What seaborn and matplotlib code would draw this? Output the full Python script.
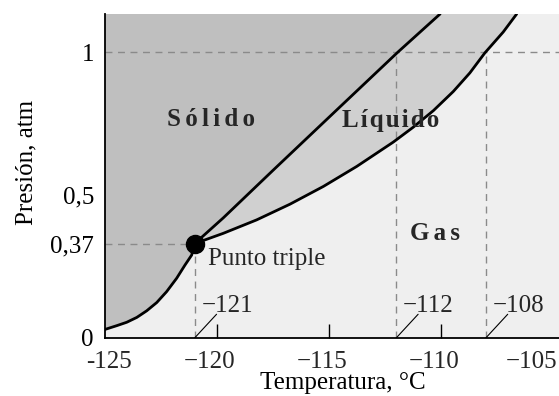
import matplotlib
matplotlib.use('Agg')
import matplotlib.pyplot as plt
import seaborn as sns

# Phase diagram data (temperature in °C, pressure in atm)
triple_T = -121.0
triple_P = 0.33

sub_T = [-125.0, -124.48, -124.03, -123.58, -123.14, -122.69, -122.25, -121.80, -121.43, -121.13, -121.0]
sub_P = [0.030, 0.043, 0.055, 0.072, 0.095, 0.124, 0.162, 0.209, 0.255, 0.290, 0.33]

melt_T = [-121.0, -119.72, -117.49, -114.66, -111.92, -110.04]
melt_P = [0.33, 0.42, 0.587, 0.797, 1.0, 1.133]

vap_T = [-121.0, -119.72, -118.23, -116.74, -115.25, -113.76, -112.13, -111.24,
         -110.34, -109.45, -108.71, -108.04, -107.22, -106.62]
vap_P = [0.33, 0.366, 0.413, 0.468, 0.530, 0.600, 0.685, 0.737,
         0.795, 0.862, 0.927, 0.997, 1.07, 1.133]

marks_T = [-121, -112, -108]
marks_lbl = ['\u2212121', '\u2212112', '\u2212108']

x_ticks = [-125, -120, -115, -110, -105]
x_tick_lbl = ['-125', '\u2212120', '\u2212115', '\u2212110', '\u2212105']
y_ticks = [0, triple_P, 0.5, 1.0]
y_tick_lbl = ['0', '0,37', '0,5', '1']

X_MIN, X_MAX = -125, -104.73
Y_MIN, Y_MAX = 0, 1.133

SOLID = '#bfbfbf'
LIQUID = '#d0d0d0'
GAS = '#efefef'
DASH = '#8a8a8a'
FS = 18

sns.set_theme(style='white')
plt.rcParams['font.family'] = ['Liberation Serif', 'DejaVu Serif']

fig = plt.figure(figsize=(5.59, 3.96), dpi=100)
ax = fig.add_axes([105 / 559, 58 / 396, 454 / 559, 324 / 396])
ax.set_facecolor(GAS)

# Regions
ax.fill(sub_T + melt_T[1:] + [X_MIN], sub_P + melt_P[1:] + [Y_MAX],
        color=SOLID, lw=0, zorder=1)
ax.fill(melt_T + vap_T[::-1], melt_P + vap_P[::-1], color=LIQUID, lw=0, zorder=1)

# Guide lines
ax.axhline(1.0, color=DASH, lw=1, dashes=(5, 4), zorder=2)
ax.plot([X_MIN, triple_T], [triple_P, triple_P], color=DASH, lw=1, dashes=(5, 4), zorder=2)
ax.plot([marks_T[0], marks_T[0]], [0, triple_P], color=DASH, lw=1, dashes=(5, 4), zorder=2)
for t in marks_T[1:]:
    ax.plot([t, t], [0, 1.0], color=DASH, lw=1, dashes=(5, 4), zorder=2)

# Phase boundaries
for xs, ys in [(sub_T, sub_P), (melt_T, melt_P), (vap_T, vap_P)]:
    sns.lineplot(x=xs, y=ys, sort=False, color='black', lw=2, ax=ax, zorder=3,
                 solid_joinstyle='round', solid_capstyle='round')
ax.plot([triple_T], [triple_P], 'o', color='black', ms=13, zorder=4)

# Marked temperatures with leader lines
for t, lbl in zip(marks_T, marks_lbl):
    ax.plot([t, t + 0.98], [0, 0.083], color='black', lw=0.8, zorder=3)
    ax.text(t + 0.3, 0.092, lbl, fontsize=FS, ha='left', va='baseline', zorder=5)

# Region labels
ax.text(-120.27, 0.741, '\u200a\u200a'.join('Sólido'), fontsize=FS, fontweight='bold',
        ha='center', va='baseline', zorder=5)
ax.text(-112.23, 0.738, '\u200a'.join('Líquido'), fontsize=FS, fontweight='bold',
        ha='center', va='baseline', zorder=5)
ax.text(-110.27, 0.343, '\u200a\u200a'.join('Gas'), fontsize=FS, fontweight='bold',
        ha='center', va='baseline', zorder=5)
ax.text(-120.4, 0.255, 'Punto triple', fontsize=FS, ha='left', va='baseline', zorder=5)

ax.set_xlim(X_MIN, X_MAX)
ax.set_ylim(Y_MIN, Y_MAX)

# Axes styling
for s in ['top', 'right']:
    ax.spines[s].set_visible(False)
for s in ['left', 'bottom']:
    ax.spines[s].set_color('black')
    ax.spines[s].set_linewidth(1.3)
    ax.spines[s].set_zorder(6)

ax.set_yticks(y_ticks)
ax.set_yticklabels(y_tick_lbl)
ax.tick_params(axis='y', direction='in', length=11, width=1, labelsize=FS, pad=8,
               colors='black', left=True)
for i in [0, 1, 3]:
    ax.yaxis.get_major_ticks()[i].tick1line.set_visible(False)

ax.set_xticks(x_ticks)
ax.set_xticklabels([])
ax.tick_params(axis='x', direction='in', length=10, width=1, colors='black', bottom=True)
for i in [0, 4]:
    ax.xaxis.get_major_ticks()[i].tick1line.set_visible(False)

# x tick labels: digits centred on the tick, minus hanging to the left
offsets = [19.5, 13.5, 13.5, 13.5, 3.5]
for t, lbl, dx in zip(x_ticks, x_tick_lbl, offsets):
    ax.annotate(lbl, xy=(t, 0), xycoords=('data', 'axes fraction'),
                xytext=(dx, -9), textcoords='offset points',
                ha='right', va='top', fontsize=FS, annotation_clip=False)

ax.set_xlabel('Temperatura, °C', fontsize=FS, color='black')
ax.xaxis.set_label_coords(0.523, -0.104)
ax.set_ylabel('Presión, atm', fontsize=FS, color='black')
ax.yaxis.set_label_coords(-0.148, 0.543)

fig.savefig('out.png', dpi=100)
